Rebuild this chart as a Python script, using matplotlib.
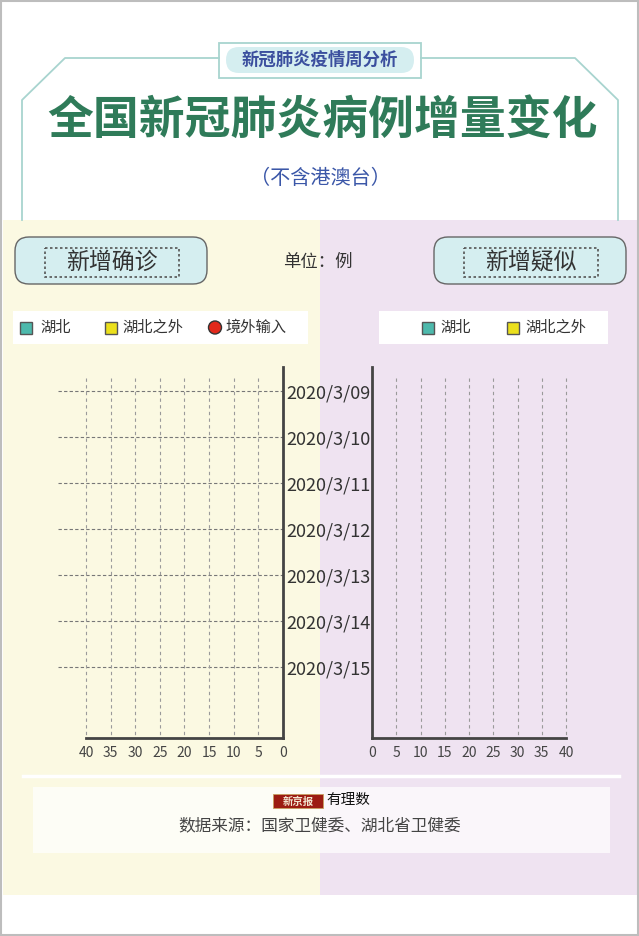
import matplotlib
matplotlib.use("Agg")
import matplotlib.pyplot as plt
from matplotlib.patches import Rectangle, FancyBboxPatch, Circle

plt.rcParams['font.family'] = ['Noto Sans CJK SC', 'DejaVu Sans']

# ---------------- data ----------------
dates = ["2020/3/09", "2020/3/10", "2020/3/11", "2020/3/12",
         "2020/3/13", "2020/3/14", "2020/3/15"]
confirmed_hubei = [0, 0, 0, 0, 0, 0, 0]
confirmed_outside = [0, 0, 0, 0, 0, 0, 0]
confirmed_imported = [0, 0, 0, 0, 0, 0, 0]
suspected_hubei = [0, 0, 0, 0, 0, 0, 0]
suspected_outside = [0, 0, 0, 0, 0, 0, 0]
x_ticks = [0, 5, 10, 15, 20, 25, 30, 35, 40]

C_TEAL = "#4db9ac"
C_YEL = "#ebe01c"
C_RED = "#e2291b"
C_AX = "#444444"

W, H = 639, 936
fig = plt.figure(figsize=(W / 100, H / 100), dpi=100)
fig.patch.set_facecolor("white")

# overlay axes in pixel coordinates
bg = fig.add_axes([0, 0, 1, 1], zorder=0)
bg.set_xlim(0, W)
bg.set_ylim(H, 0)
bg.axis("off")

# panels
bg.add_patch(Rectangle((3, 220), 317, 675, fc="#fbf9e2", ec="none"))
bg.add_patch(Rectangle((320, 220), 319, 675, fc="#efe3f1", ec="none"))
# outer border
bg.add_patch(Rectangle((0.8, 0.8), W - 1.6, H - 1.6, fc="none", ec="#bdbdbd", lw=1.5))

# header frame
frame = "#a8d4cf"
bg.plot([22, 22, 65, 219], [220, 100, 58, 58], color=frame, lw=1.3)
bg.plot([421, 575, 618, 618], [58, 58, 100, 220], color=frame, lw=1.3)
bg.add_patch(Rectangle((219, 43), 202, 35, fc="white", ec=frame, lw=1.3))
bg.add_patch(FancyBboxPatch((226, 47), 188, 26, boxstyle="round,pad=0,rounding_size=13",
                            fc="#d5eef0", ec="none"))
bg.text(320, 60, "新冠肺炎疫情周分析", ha="center", va="center", fontsize=12.5,
        fontweight="bold", color="#3b4f9e")
bg.text(322, 121, "全国新冠肺炎病例增量变化", ha="center", va="center", fontsize=33,
        fontweight="bold", color="#2f7b59")
bg.text(320, 178, "（不含港澳台）", ha="center", va="center", fontsize=14.5, color="#3b57a8")

# label boxes
for x0, txt in [(15, "新增确诊"), (434, "新增疑似")]:
    bg.add_patch(FancyBboxPatch((x0, 237), 192, 47, boxstyle="round,pad=0,rounding_size=14",
                                fc="#d5eef0", ec="#666666", lw=1.0))
    bg.add_patch(Rectangle((x0 + 30, 248), 134, 29, fc="none", ec="#555555", lw=1.2,
                           ls=(0, (1.5, 1.5))))
    bg.text(x0 + 97, 262, txt, ha="center", va="center", fontsize=16.5, color="#333333")
bg.text(318, 262, "单位：例", ha="center", va="center", fontsize=12.5, color="#333333")

# legends
bg.add_patch(Rectangle((13, 311), 295, 33, fc="white", ec="none"))
bg.add_patch(Rectangle((379, 311), 229, 33, fc="white", ec="none"))
leg_left = [("sq", C_TEAL, 20, "湖北", 40), ("sq", C_YEL, 105, "湖北之外", 122),
            ("ci", C_RED, 209, "境外输入", 225)]
leg_right = [("sq", C_TEAL, 422, "湖北", 440), ("sq", C_YEL, 507, "湖北之外", 525)]
for kind, col, mx, txt, tx in leg_left + leg_right:
    if kind == "sq":
        bg.add_patch(Rectangle((mx, 321.5), 12, 12, fc=col, ec="#555555", lw=1.0))
    else:
        bg.add_patch(Circle((mx + 6, 327.5), 6.5, fc=col, ec="#333333", lw=1.0))
    bg.text(tx, 327.5, txt, ha="left", va="center", fontsize=11, color="#333333")

# footer
bg.plot([23, 619], [776, 776], color="white", lw=2.5)
bg.add_patch(Rectangle((33, 787), 577, 66, fc="white", ec="none", alpha=0.7))
bg.add_patch(Rectangle((273, 794), 50, 14, fc="#9c1c12", ec="#c8a060", lw=0.6))
bg.text(298, 801.5, "新京报", ha="center", va="center", fontsize=7.5, fontweight="bold",
        color="#f3e6d0")
bg.text(326, 800, "有理数", ha="left", va="center", fontsize=10.5,
        color="#111111")
bg.text(320, 826, "数据来源：国家卫健委、湖北省卫健委", ha="center", va="center",
        fontsize=12, color="#444444")


# ---------------- chart axes ----------------
def px_axes(x0, x1, y0, y1):
    return fig.add_axes([x0 / W, 1 - y1 / H, (x1 - x0) / W, (y1 - y0) / H], zorder=2)


Y_TOP, Y_BOT = 367, 738
Y0, DY = 391, 46
ylim = ((Y_BOT - Y0) / DY, (Y_TOP - Y0) / DY)
grid_top = (378 - Y0) / DY
pos = list(range(len(dates)))

# left: new confirmed
axL = px_axes(58, 283, Y_TOP, Y_BOT)
axL.set_facecolor("none")
ppu = (283 - 86) / 40.0
axL.set_xlim(40 + (86 - 58) / ppu, 0)
axL.set_ylim(*ylim)
left_acc = [0] * len(dates)
for vals, col in [(confirmed_hubei, C_TEAL), (confirmed_outside, C_YEL),
                  (confirmed_imported, C_RED)]:
    axL.barh(pos, vals, left=left_acc, height=0.6, color=col, lw=0)
    left_acc = [a + b for a, b in zip(left_acc, vals)]
for s in ["left", "top"]:
    axL.spines[s].set_visible(False)
for s in ["right", "bottom"]:
    axL.spines[s].set_color(C_AX)
    axL.spines[s].set_linewidth(2)
axL.spines["bottom"].set_bounds(0, 40)
axL.set_xticks(x_ticks)
axL.tick_params(axis="x", length=0, pad=6, labelsize=10, labelcolor=C_AX)
axL.yaxis.tick_right()
axL.set_yticks(pos)
axL.set_yticklabels(dates)
axL.tick_params(axis="y", length=0, pad=33, labelsize=13, labelcolor="#333333")
for lab in axL.get_yticklabels():
    lab.set_ha("center")
axL.grid(axis="y", color="#777777", ls=(0, (3, 2)), lw=0.8)
axL.vlines(x_ticks[1:], grid_top, ylim[0], colors="#9a9a9a", linestyles=(0, (3, 3)),
           lw=0.8, clip_on=False)

# right: new suspected
axR = px_axes(372, 566, Y_TOP, Y_BOT)
axR.set_facecolor("none")
axR.set_xlim(0, 40)
axR.set_ylim(*ylim)
left_acc = [0] * len(dates)
for vals, col in [(suspected_hubei, C_TEAL), (suspected_outside, C_YEL)]:
    axR.barh(pos, vals, left=left_acc, height=0.6, color=col, lw=0)
    left_acc = [a + b for a, b in zip(left_acc, vals)]
for s in ["right", "top"]:
    axR.spines[s].set_visible(False)
for s in ["left", "bottom"]:
    axR.spines[s].set_color(C_AX)
    axR.spines[s].set_linewidth(2)
axR.set_xticks(x_ticks)
axR.tick_params(axis="x", length=0, pad=6, labelsize=10, labelcolor=C_AX)
axR.set_yticks([])
axR.vlines(x_ticks[1:], grid_top, ylim[0], colors="#9a9a9a", linestyles=(0, (3, 3)),
           lw=0.8, clip_on=False)

fig.savefig("out.png", dpi=100)
